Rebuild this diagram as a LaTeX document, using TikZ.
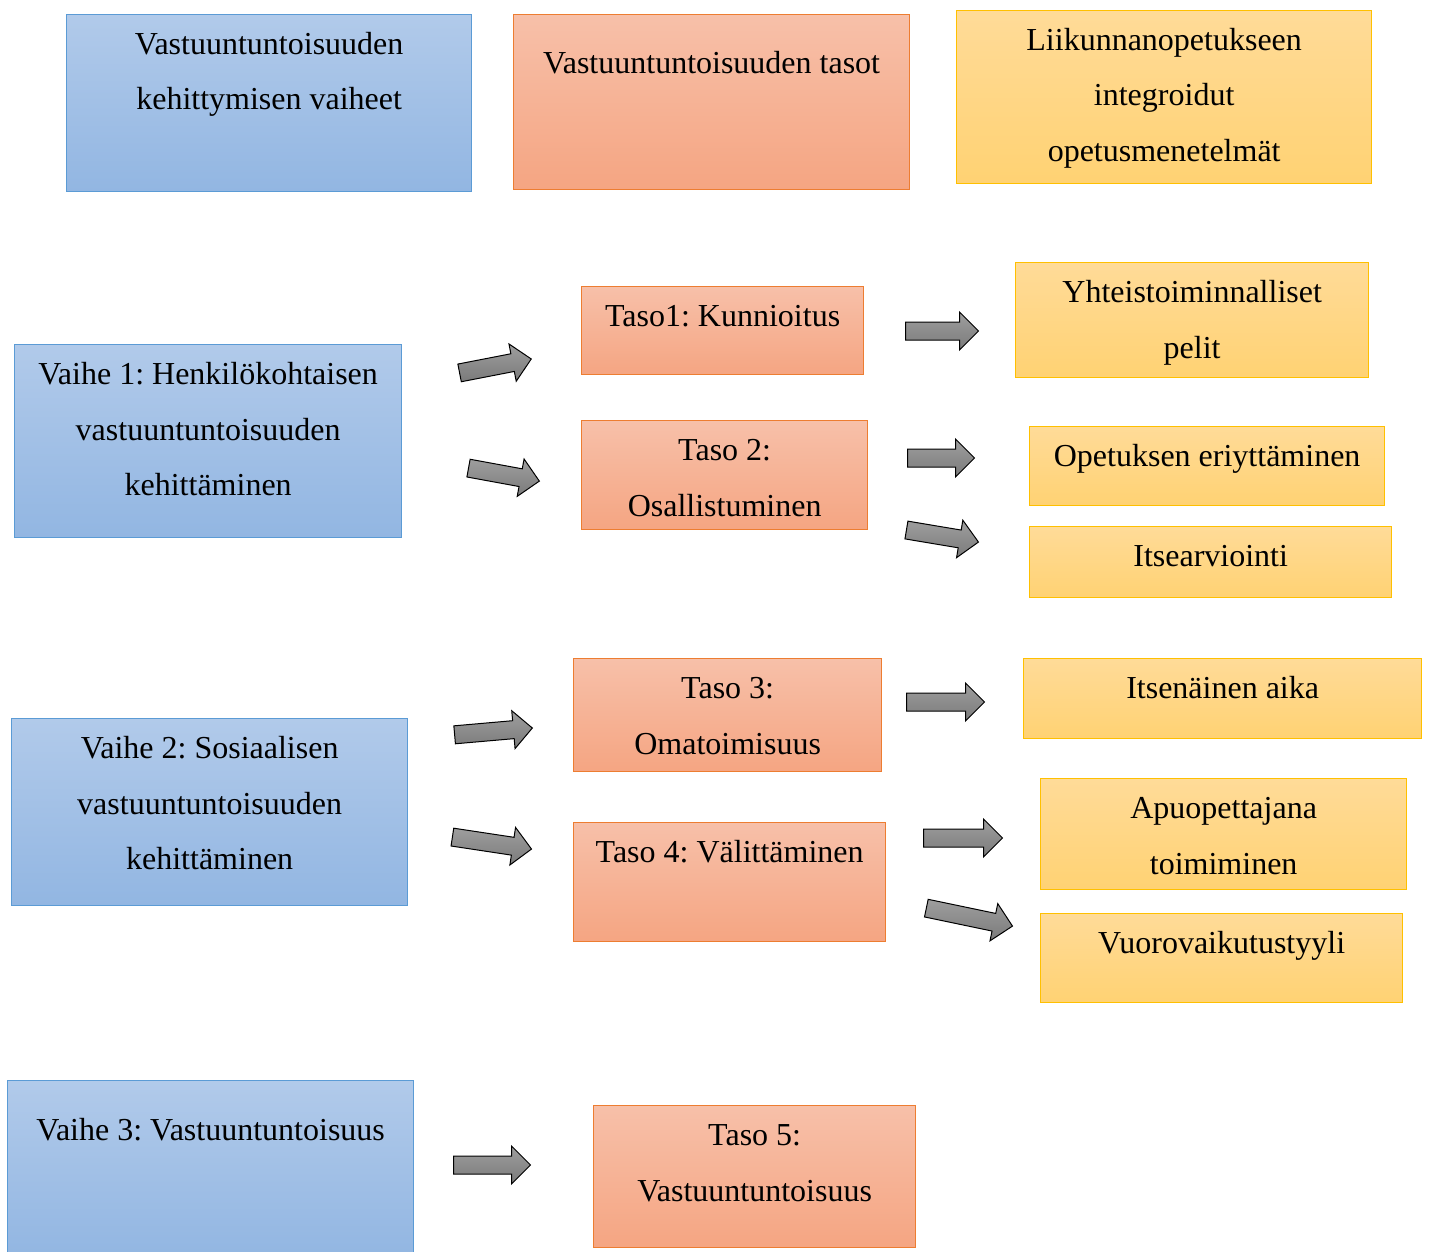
\documentclass[tikz,border=0pt]{standalone}
\usepackage{fontspec}
\setmainfont{Liberation Serif}
\usetikzlibrary{positioning,shapes.arrows}
\frenchspacing

\definecolor{phasetop}{RGB}{177,202,234}
\definecolor{phasebot}{RGB}{146,182,226}
\definecolor{phaseline}{RGB}{91,155,213}
\definecolor{leveltop}{RGB}{247,192,169}
\definecolor{levelbot}{RGB}{245,165,130}
\definecolor{levelline}{RGB}{237,125,49}
\definecolor{methodtop}{RGB}{255,219,152}
\definecolor{methodbot}{RGB}{255,210,115}
\definecolor{methodline}{RGB}{255,192,0}

% text at the top of a box of given width and height
\newcommand{\boxtext}[4][1]{\parbox[c][#3pt][t]{#2pt}{\vspace*{#1pt}\centering\strut #4}}

\begin{document}
\begin{tikzpicture}[x=1pt, y=-1pt,
    box/.style={line width=1.3pt, inner sep=0pt, anchor=north west,
        font=\fontsize{32pt}{55.5pt}\selectfont},
    phase/.style={box, draw=phaseline, top color=phasetop, bottom color=phasebot},
    level/.style={box, draw=levelline, top color=leveltop, bottom color=levelbot},
    method/.style={box, draw=methodline, top color=methodtop, bottom color=methodbot},
    barrow/.style={single arrow, draw=black, line width=1pt,
        inner xsep=0pt, inner ysep=8.5pt, single arrow head extend=10pt,
        top color=black!38, bottom color=black!52}]
    \useasboundingbox (0,0) rectangle (1429,1252);

    % headings
    \node[phase] (hphase) at (66,14) {\boxtext{405}{177}{Vastuuntuntoisuuden\\kehittymisen vaiheet}};
    \node[level] (hlevel) at (513,14) {\boxtext[20]{396}{175}{Vastuuntuntoisuuden tasot}};
    \node[method] (hmethod) at (956,10) {\boxtext{415}{173}{Liikunnanopetukseen\\integroidut\\opetusmenetelmät}};

    % phases
    \node[phase] (phase1) at (14,344) {\boxtext{387}{193}{Vaihe 1: Henkilökohtaisen\\vastuuntuntoisuuden\\kehittäminen}};
    \node[phase] (phase2) at (11,718) {\boxtext{396}{187}{Vaihe 2: Sosiaalisen\\vastuuntuntoisuuden\\kehittäminen}};
    \node[phase] (phase3) at (7,1080) {\boxtext[21]{406}{176}{Vaihe 3: Vastuuntuntoisuus}};

    % levels
    \node[level] (level1) at (581,286) {\boxtext{282}{88}{Taso1: Kunnioitus}};
    \node[level] (level2) at (581,420) {\boxtext{286}{109}{Taso 2:\\Osallistuminen}};
    \node[level] (level3) at (573,658) {\boxtext{308}{113}{Taso 3:\\Omatoimisuus}};
    \node[level] (level4) at (573,822) {\boxtext{312}{119}{Taso 4: Välittäminen}};
    \node[level] (level5) at (593,1105) {\boxtext{322}{142}{Taso 5:\\Vastuuntuntoisuus}};

    % methods
    \node[method] (games) at (1015,262) {\boxtext{353}{115}{Yhteistoiminnalliset\\pelit}};
    \node[method] (differ) at (1029,426) {\boxtext{355}{79}{Opetuksen eriyttäminen}};
    \node[method] (selfeval) at (1029,526) {\boxtext{362}{71}{Itsearviointi}};
    \node[method] (owntime) at (1023,658) {\boxtext{398}{80}{Itsenäinen aika}};
    \node[method] (assist) at (1040,778) {\boxtext{366}{111}{Apuopettajana\\toimiminen}};
    \node[method] (style) at (1040,913) {\boxtext{362}{89}{Vuorovaikutustyyli}};

    % block arrows
    \node[barrow, minimum height=73pt, rotate=11] (a1) at (491,366.8) {};
    \node[barrow, minimum height=72pt, rotate=-10.4] (a2) at (499.5,473.8) {};
    \node[barrow, minimum height=78pt, rotate=5] (a3) at (489,731.8) {};
    \node[barrow, minimum height=80pt, rotate=-8.6] (a4) at (487.5,842.4) {};
    \node[barrow, minimum height=77pt] (a5) at (487.5,1165) {};
    \node[barrow, minimum height=73pt] (a6) at (937.5,331) {};
    \node[barrow, minimum height=67pt] (a7) at (936.5,458) {};
    \node[barrow, minimum height=73pt, rotate=-9.5] (a8) at (938,535.3) {};
    \node[barrow, minimum height=78pt] (a9) at (941,702) {};
    \node[barrow, minimum height=79pt] (a10) at (958.5,838) {};
    \node[barrow, minimum height=88pt, rotate=-11.8] (a11) at (965,916.2) {};
\end{tikzpicture}
\end{document}
